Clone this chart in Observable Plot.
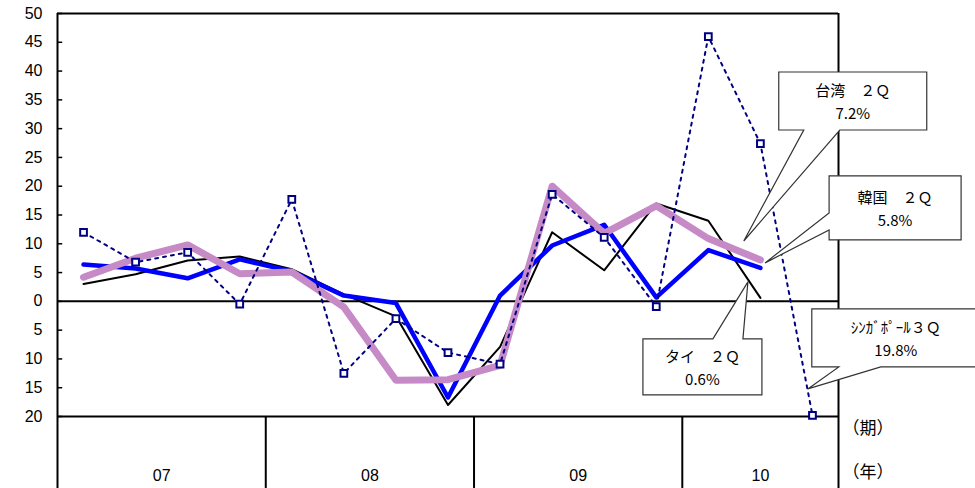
<!DOCTYPE html>
<html>
<head>
<meta charset="utf-8">
<script src="https://cdn.jsdelivr.net/npm/d3@7"></script>
<script src="https://cdn.jsdelivr.net/npm/@observablehq/plot@0.6"></script>
<style>
  html, body { margin: 0; padding: 0; background: #fff; }
  svg { display: block; }
</style>
</head>
<body>
<div id="chart"></div>
<script>
// ---- data ----
const quarters = ["07Q1","07Q2","07Q3","07Q4","08Q1","08Q2","08Q3","08Q4","09Q1","09Q2","09Q3","09Q4","10Q1","10Q2","10Q3"];
const years = ["07", "08", "09", "10"];
const yearQuarterCount = [4, 4, 4, 3];
const yTicks = [-20, -15, -10, -5, 0, 5, 10, 15, 20, 25, 30, 35, 40, 45, 50];

const singapore = [12.0, 6.8, 8.5, -0.5, 17.7, -12.5, -3.0, -8.9, -10.9, 18.6, 11.1, -0.9, 46.0, 27.4, -19.8];
const taiwan    = [4.2, 7.5, 9.8, 4.8, 5.1, -1.0, -13.7, -13.6, -11.1, 20.0, 11.8, 16.6, 10.9, 7.2];
const korea     = [6.4, 5.7, 4.0, 7.3, 5.2, 1.0, -0.3, -16.7, 1.0, 9.7, 13.3, 0.7, 8.9, 5.8];
const thailand  = [3.0, 4.7, 7.1, 7.8, 5.6, 1.2, -2.6, -18.0, -7.9, 12.0, 5.4, 17.0, 14.0, 0.6];

const unitLabels = ["（期）", "（年）"];

const callouts = [
  {lines: ["台湾　２Ｑ", "7.2%"],  tip: [12.69, 10.4], box: [35, 183, -169, -111], edge: "bottom", base: [60, 96]},
  {lines: ["韓国　２Ｑ", "5.8%"],  tip: [13.10, 6.6],  box: [64, 196, -87, -23],   edge: "left",   base: [-50, -33]},
  {lines: ["タイ　２Ｑ", "0.6%"],  tip: [12.77, 3.3],  box: [-105, 14, 57, 113],   edge: "top",    base: [-35, -5]},
  {lines: ["ｼﾝｶﾞﾎﾟｰﾙ３Ｑ", "19.8%"], tip: [13.92, -15.3], box: [4, 172, -80, -22], edge: "bottom", base: [31, 73]}
];

// ---- tables ----
const toRows = (arr, name) => arr.map((v, i) => ({i, v, name}));
const sgRows = toRows(singapore, "シンガポール");
const twRows = toRows(taiwan, "台湾");
const krRows = toRows(korea, "韓国");
const thRows = toRows(thailand, "タイ");

let acc = 0;
const yearDividers = [-0.5];
const yearCenters = [];
yearQuarterCount.forEach((n, k) => {
  yearCenters.push({x: acc + (n - 1) / 2, label: years[k]});
  acc += n;
  yearDividers.push(acc - 0.5);
});
const xMin = -0.5, xMax = quarters.length - 0.5;
const yBottom = -32.5;

const plot = Plot.plot({
  width: 975,
  height: 488,
  marginLeft: 57,
  marginRight: 137,
  marginTop: 13,
  marginBottom: 72,
  style: {fontFamily: "'Liberation Sans', Arial, sans-serif", fontSize: "16px", color: "#000", background: "#fff"},
  x: {domain: [xMin, xMax], axis: null},
  y: {domain: [-20, 50], axis: null},
  marks: [
    Plot.axisY({ticks: yTicks, tickFormat: d => Math.abs(d), tickSize: 0, tickPadding: 15, label: null, fontSize: 16, fill: "#000"}),
    Plot.ruleY(yTicks, {x1: xMin, x2: xMin + 0.1, stroke: "#000", strokeWidth: 1.5}),
    Plot.ruleY([50, 0, -20], {x1: xMin, x2: xMax, stroke: "#000", strokeWidth: 2}),
    Plot.ruleX([xMin, xMax], {y1: yBottom, y2: 50, stroke: "#000", strokeWidth: 2}),
    Plot.ruleX(yearDividers.slice(1, -1), {y1: yBottom, y2: -20, stroke: "#000", strokeWidth: 2}),
    Plot.text(yearCenters, {x: "x", y: -30.4, text: "label", fontSize: 16, fill: "#000"}),
    Plot.text(unitLabels, {x: xMax, y: [-22.1, -29.7], text: d => d, textAnchor: "start", dx: 4, fontSize: 17, fill: "#000", fontFamily: "'Noto Sans CJK JP', sans-serif", letterSpacing: "2px"}),
    Plot.line(thRows, {x: "i", y: "v", stroke: "#000", strokeWidth: 2}),
    Plot.line(krRows, {x: "i", y: "v", stroke: "#0000ff", strokeWidth: 4.5}),
    Plot.line(twRows, {x: "i", y: "v", stroke: "#c68ac6", strokeWidth: 7}),
    Plot.line(sgRows, {x: "i", y: "v", stroke: "#000080", strokeWidth: 2, strokeDasharray: "3,5"}),
    Plot.dot(sgRows, {x: "i", y: "v", symbol: "square", r: 3.8, fill: "#fff", stroke: "#000080", strokeWidth: 2})
  ]
});

const svg = d3.select(plot);
const xs = plot.scale("x"), ys = plot.scale("y");
for (const c of callouts) {
  const tx = xs.apply(c.tip[0]), ty = ys.apply(c.tip[1]);
  const x1 = tx + c.box[0], x2 = tx + c.box[1], y1 = ty + c.box[2], y2 = ty + c.box[3];
  let pts;
  if (c.edge === "bottom") {
    pts = [[x1,y1],[x2,y1],[x2,y2],[tx + c.base[1], y2],[tx,ty],[tx + c.base[0], y2],[x1,y2]];
  } else if (c.edge === "top") {
    pts = [[x1,y1],[tx + c.base[0], y1],[tx,ty],[tx + c.base[1], y1],[x2,y1],[x2,y2],[x1,y2]];
  } else {
    pts = [[x1,y1],[x2,y1],[x2,y2],[x1,y2],[x1, ty + c.base[1]],[tx,ty],[x1, ty + c.base[0]]];
  }
  const g = svg.append("g");
  g.append("path")
    .attr("d", "M" + pts.map(p => p.join(",")).join("L") + "Z")
    .attr("fill", "#fff").attr("stroke", "#333").attr("stroke-width", 1.2);
  const cx = (x1 + x2) / 2, cy = (y1 + y2) / 2;
  c.lines.forEach((t, k) => {
    g.append("text")
      .attr("x", cx).attr("y", cy + (k === 0 ? -5 : 18))
      .attr("text-anchor", "middle")
      .attr("font-family", "'Noto Sans CJK JP', sans-serif")
      .attr("font-size", 15)
      .attr("fill", "#000")
      .text(t);
  });
}

document.getElementById("chart").appendChild(plot);
</script>
</body>
</html>
